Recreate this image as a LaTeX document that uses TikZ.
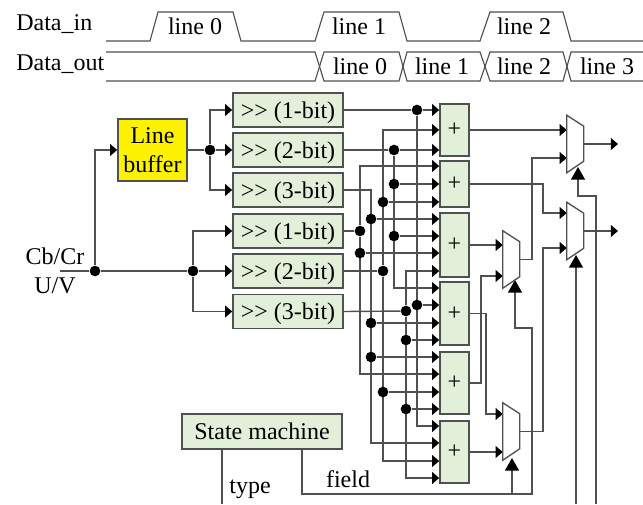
\documentclass[tikz,border=0pt]{standalone}
\usepackage{fontspec}
\setmainfont{Liberation Serif}
\usetikzlibrary{arrows.meta,backgrounds}
\definecolor{wirecol}{HTML}{505050}
\definecolor{blockcol}{HTML}{E2EFD9}
\tikzset{
  sh/.style={draw=wirecol, line width=1.2pt, fill=blockcol, minimum width=82.5pt,
    minimum height=25.5pt, inner sep=0pt, text height=13pt, text depth=1pt},
  addr/.style={draw=wirecol, line width=1.2pt, fill=blockcol, minimum width=21.75pt,
    inner sep=0pt, text height=11pt, text depth=1pt}}
\newcommand{\muxat}[3]{%
  \node[minimum width=12.75pt, minimum height=42.75pt, inner sep=0pt] (#1) at (#2,#3) {};
  \draw[line width=1pt, draw=wirecol] (#1.north west) -- ++(17,11)
    -- ++(0,35) -- (#1.south west) -- cycle;}

\begin{document}
\begin{tikzpicture}[x=0.75pt, y=-0.75pt, font=\fontsize{18}{21.5}\selectfont,
      wire/.style={line width=1.05pt, draw=wirecol},
      inp/.style={-{Triangle[length=5.4pt, width=9pt, black]}, line width=1.05pt, draw=wirecol},
      sel/.style={-{Triangle[length=9.5pt, width=10.5pt, black]}, line width=1.05pt, draw=wirecol},
      dotj/.style={circle, fill=black, inner sep=0pt, minimum size=8pt},
      wave/.style={line width=0.85pt, draw=wirecol}]
      \path[use as bounding box] (0,0) rectangle (643,504);
      % timing
      \draw[wave] (106,41) -- (150,41) -- (158,12) -- (233,12) -- (241,41) -- (315,41)
        -- (324,12) -- (399,12) -- (407,41) -- (480,41) -- (490,12) -- (563,12)
        -- (571,41) -- (643,41);
      \draw[wave] (106,52) -- (315,52) -- (324,81) -- (399,81) -- (407,52) -- (480,52)
        -- (490,81) -- (563,81) -- (571,52) -- (643,52);
      \draw[wave] (106,81) -- (315,81) -- (324,52) -- (399,52) -- (407,81) -- (480,81)
        -- (490,52) -- (563,52) -- (571,81) -- (643,81);
      \node[anchor=west, inner sep=0pt] (din) at (16,24) {Data\_in};
      \node[anchor=west, inner sep=0pt] (dout) at (16,64) {Data\_out};
      \node (in0) at (195,26) {line 0};
      \node (in1) at (359,26) {line 1};
      \node (in2) at (524,26) {line 2};
      \node (out0) at (360,66) {line 0};
      \node (out1) at (442,66) {line 1};
      \node (out2) at (524,66) {line 2};
      \node (out3) at (607,66) {line 3};
      % blocks
      \node[draw=wirecol, line width=1.2pt, fill=yellow, minimum width=51.75pt,
        minimum height=46.5pt, inner sep=0pt, align=center] (lb) at (152.5,150) {Line\\ buffer};
      \node[sh] (sh1) at (288,110) {>{}> (1-bit)};
      \node[sh] (sh2) at (288,150) {>{}> (2-bit)};
      \node[sh] (sh3) at (288,190) {>{}> (3-bit)};
      \node[sh] (sh4) at (288,231) {>{}> (1-bit)};
      \node[sh] (sh5) at (288,271) {>{}> (2-bit)};
      \node[sh] (sh6) at (288,311.5) {>{}> (3-bit)};
      \node[addr, minimum height=39pt] (ad1) at (454.5,130) {+};
      \node[addr, minimum height=34.5pt] (ad2) at (454.5,184) {+};
      \node[addr, minimum height=48pt] (ad3) at (454.5,245) {+};
      \node[addr, minimum height=47.25pt] (ad4) at (454.5,313.5) {+};
      \node[addr, minimum height=46.5pt] (ad5) at (454.5,383) {+};
      \node[addr, minimum height=46.5pt] (ad6) at (454.5,452) {+};
      \node[sh, minimum width=120pt, minimum height=26.25pt] (fsm) at (262,431.5) {State machine};
      \muxat{mx1}{575.5}{144}
      \muxat{mx2}{575.5}{231}
      \muxat{mx3}{511.5}{259.5}
      \muxat{mx4}{511.5}{431.5}
      \node (cb) at (55,256) {Cb/Cr};
      \node (uv) at (55,286) {U/V};
      \node (tp) at (250,489) {type};
      \node (fd) at (348,479) {field};
      \coordinate (cin) at (60,271);
      \node[dotj] (ja) at (95,271) {};
      \node[dotj] (jb) at (193,271) {};
      \node[dotj] (jc) at (210,150) {};
      \node[dotj] (k1) at (417,110) {};
      \node[dotj] (k2) at (417,305) {};
      \node[dotj] (m1) at (394,150) {};
      \node[dotj] (m2) at (394,184) {};
      \node[dotj] (m3) at (394,236) {};
      \node[dotj] (n1) at (371,219) {};
      \node[dotj] (n2) at (371,323) {};
      \node[dotj] (n3) at (371,357) {};
      \node[dotj] (p1) at (360,231) {};
      \node[dotj] (p2) at (360,253) {};
      \node[dotj] (q1) at (383,271) {};
      \node[dotj] (q2) at (383,202) {};
      \node[dotj] (q3) at (383,392) {};
      \node[dotj] (r1) at (406,311) {};
      \node[dotj] (r2) at (406,340) {};
      \node[dotj] (r3) at (406,409) {};
      \begin{scope}[on background layer]
      % input side
      \draw[wire] (cin) -- (ja);
      \draw[wire] (ja) -- (jb);
      \draw[inp] (ja) |- (lb.west);
      \draw[inp] (jb) -- (sh5.west);
      \draw[inp] (jb) |- (sh4.west);
      \draw[inp] (jb) |- (sh6.west);
      \draw[wire] (lb.east) -- (jc);
      \draw[inp] (jc) -- (sh2.west);
      \draw[inp] (jc) |- (sh1.west);
      \draw[inp] (jc) |- (sh3.west);
      % bus from sh1
      \draw[wire] (sh1.east) -- (k1);
      \draw[inp] (k1) -- (k1 -| ad1.west);
      \draw[inp] (k2) -- (k2 -| ad4.west);
      \draw[inp] (k1) |- (ad6.west |- 0,426);
      % bus from sh2
      \draw[wire] (sh2.east) -- (m1);
      \draw[inp] (m1) -- (m1 -| ad1.west);
      \draw[inp] (m2) -- (m2 -| ad2.west);
      \draw[inp] (m3) -- (m3 -| ad3.west);
      \draw[inp] (m1) |- (ad4.west |- 0,288);
      % bus from sh3
      \draw[inp] (n1) -- (n1 -| ad3.west);
      \draw[inp] (n2) -- (n2 -| ad4.west);
      \draw[inp] (n3) -- (n3 -| ad5.west);
      \draw[inp] (sh3.east) -- (371,190) |- (ad6.west |- 0,443);
      % bus from sh4
      \draw[wire] (sh4.east) -- (p1);
      \draw[inp] (p1) |- (ad2.west |- 0,166);
      \draw[inp] (p2) -- (p2 -| ad3.west);
      \draw[inp] (p1) |- (ad5.west |- 0,374);
      % bus from sh5
      \draw[wire] (sh5.east) -- (q1);
      \draw[inp] (q1) |- (ad1.west |- 0,130);
      \draw[inp] (q2) -- (q2 -| ad2.west);
      \draw[inp] (q3) -- (q3 -| ad5.west);
      \draw[inp] (q1) |- (ad6.west |- 0,461);
      % bus from sh6
      \draw[wire] (sh6.east) -- (r1);
      \draw[inp] (r1) |- (ad3.west |- 0,271);
      \draw[inp] (r2) -- (r2 -| ad4.west);
      \draw[inp] (r3) -- (r3 -| ad5.west);
      \draw[inp] (r1) |- (ad6.west |- 0,478);
      % adders to muxes
      \draw[inp] (ad1.east) -- (ad1.east -| mx1.west);
      \draw[inp] (mx3.east) -- (532,259.5) |- (mx1.west |- 0,158);
      \draw[inp] (ad2.east) -- (543,184) |- (mx2.west |- 0,213);
      \draw[inp] (mx4.east) -- (543,431.5) |- (mx2.west |- 0,248);
      \draw[inp] (ad3.east) -- (ad3.east -| mx3.west);
      \draw[inp] (ad5.east) -- (481,383) |- (mx3.west |- 0,276);
      \draw[inp] (ad4.east) -- (486,313.5) |- (mx4.west |- 0,414);
      \draw[inp] (ad6.east) -- (ad6.east -| mx4.west);
      \coordinate (o1) at (618,144);
      \coordinate (o2) at (618,231);
      \draw[inp] (mx1.east) -- (o1);
      \draw[inp] (mx2.east) -- (o2);
      % select lines
      \coordinate (b1) at (596,504);
      \coordinate (b2) at (576,504);
      \coordinate (fb) at (302,449);
      \coordinate (tb) at (222,504);
      \draw[sel] (b1) |- (578,196) -- (578,167);
      \draw[sel] (b2) -- (576,255);
      \draw[sel] (fb) |- (532,494) |- (515,328) -- (515,280);
      \draw[sel] (512,494) -- (512,458);
      \draw[wire] (fsm.south -| tb) -- (tb);
      \end{scope}
\end{tikzpicture}
\end{document}
